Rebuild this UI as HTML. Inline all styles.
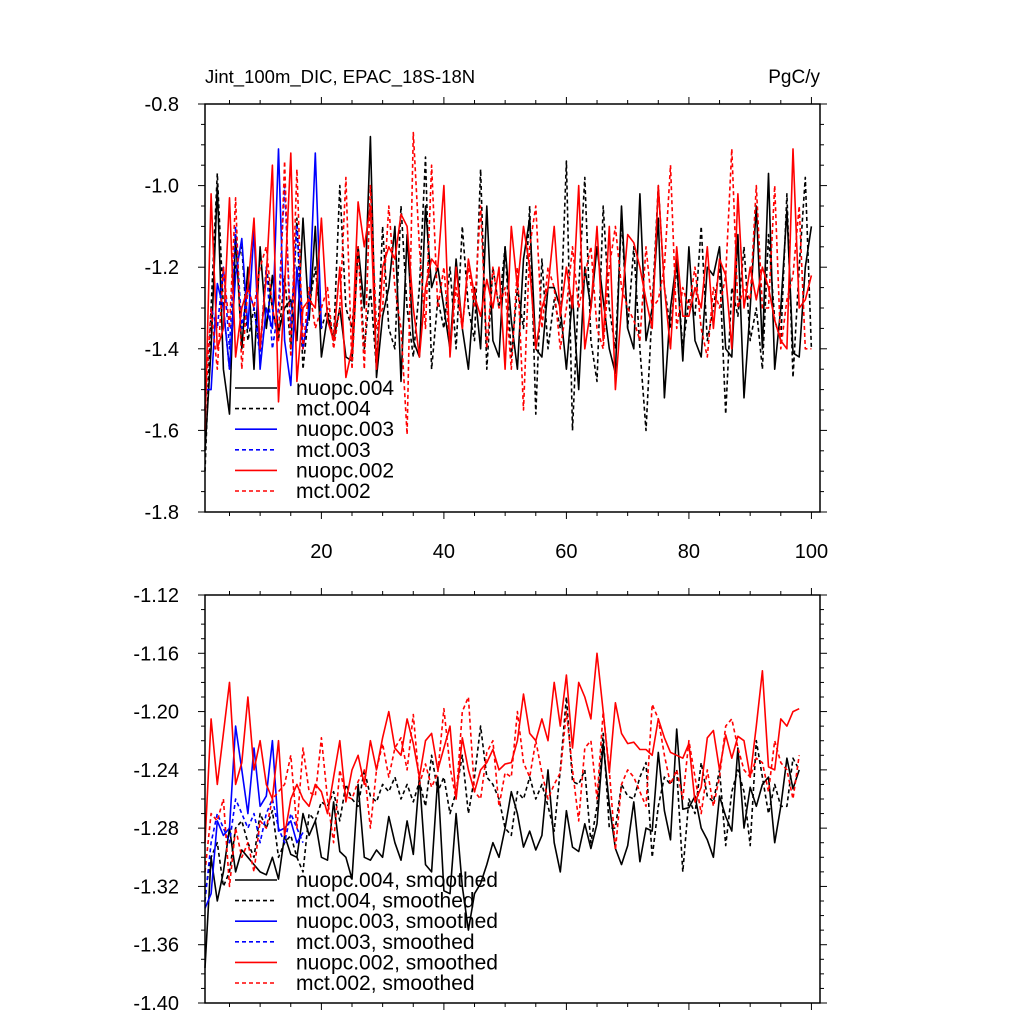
<!DOCTYPE html>
<html><head><meta charset="utf-8"><style>
html,body{margin:0;padding:0;background:#fff}
svg{display:block;font-family:"Liberation Sans",sans-serif}
</style></head><body>
<svg id="chart" width="1024" height="1024" viewBox="0 0 1024 1024" xmlns="http://www.w3.org/2000/svg">
<text x="205" y="83" font-size="18.5">Jint_100m_DIC, EPAC_18S-18N</text>
<text x="820" y="83" font-size="19" text-anchor="end">PgC/y</text>
<g id="top"></g>
<g id="bot"></g>
</svg>
<script>
const xTicks=[20,40,60,80,100];
const topYTicks=[-0.8,-1.0,-1.2,-1.4,-1.6,-1.8];
const botYTicks=[-1.12,-1.16,-1.20,-1.24,-1.28,-1.32,-1.36,-1.40];
const nuo4=[-1.65,-1.40,-1.00,-1.45,-1.56,-1.12,-1.40,-1.20,-1.45,-1.15,-1.35,-1.22,-1.36,-1.30,-1.28,-1.38,-1.08,-1.33,-1.10,-1.42,
-1.32,-1.38,-1.30,-1.42,-1.43,-1.15,-1.30,-0.88,-1.47,-1.32,-1.25,-1.10,-1.48,-1.12,-1.38,-1.42,-1.05,-1.25,-1.20,-1.30,
-1.40,-1.18,-1.35,-1.45,-1.25,-1.40,-1.05,-1.38,-1.42,-1.15,-1.33,-1.45,-1.18,-1.08,-1.40,-1.42,-1.25,-1.25,-1.30,-1.45,
-1.27,-1.50,-1.20,-1.30,-1.15,-1.28,-1.40,-1.46,-1.05,-1.35,-1.40,-1.02,-1.38,-1.30,-1.08,-1.52,-1.30,-1.18,-1.43,-1.15,
-1.38,-1.42,-1.20,-1.22,-1.15,-1.40,-1.42,-1.12,-1.52,-1.30,-1.05,-1.40,-0.97,-1.45,-1.30,-1.06,-1.41,-1.42,-1.20,-1.10];
const mct4=[-1.70,-1.30,-0.97,-1.30,-1.45,-1.20,-1.15,-1.38,-1.30,-1.40,-1.20,-1.30,-1.38,-1.22,-1.40,-1.08,-1.45,-1.30,-1.20,-1.35,
-1.30,-1.38,-1.00,-1.30,-1.35,-1.15,-1.40,-1.25,-1.45,-1.10,-1.35,-1.40,-1.05,-1.30,-1.42,-1.25,-0.93,-1.45,-1.28,-1.35,
-1.20,-1.40,-1.10,-1.30,-1.38,-0.96,-1.45,-1.20,-1.30,-1.15,-1.42,-1.25,-1.35,-1.05,-1.56,-1.18,-1.40,-1.28,-1.35,-0.94,
-1.60,-1.25,-0.98,-1.38,-1.48,-1.05,-1.30,-1.40,-1.08,-1.35,-1.15,-1.40,-1.60,-1.30,-1.00,-1.25,-1.35,-1.20,-1.40,-1.28,
-1.32,-1.10,-1.38,-1.30,-1.20,-1.56,-1.25,-1.32,-1.15,-1.38,-1.30,-1.45,-1.12,-1.33,-1.38,-1.02,-1.47,-1.20,-0.98,-1.40];
const nuo3=[-1.50,-1.50,-1.24,-1.30,-1.45,-1.22,-1.13,-1.35,-1.11,-1.45,-1.30,-1.35,-0.91,-1.38,-1.49,-1.20,-1.40,-1.30,-0.92,-1.35];
const mct3=[-1.55,-1.30,-1.35,-1.20,-1.40,-1.10,-1.35,-1.25,-1.30,-1.42,-1.20,-1.40,-1.30,-1.00,-1.35,-1.10,-1.35];
const nuo2=[-1.60,-1.02,-1.40,-1.35,-1.03,-1.42,-1.30,-1.25,-1.08,-1.40,-1.22,-0.95,-1.53,-1.25,-0.92,-1.48,-1.30,-1.28,-1.30,-1.08,
-1.33,-1.38,-1.20,-1.47,-1.40,-1.04,-1.15,-1.05,-1.45,-1.20,-1.15,-1.18,-1.07,-1.10,-1.30,-1.42,-1.25,-1.18,-1.20,-1.00,
-1.42,-1.20,-1.35,-1.18,-1.27,-1.32,-1.23,-1.30,-1.20,-1.45,-1.10,-1.25,-1.10,-1.20,-1.40,-1.30,-1.25,-1.10,-1.32,-1.20,
-1.30,-1.00,-1.40,-1.30,-1.10,-1.38,-1.10,-1.50,-1.30,-1.12,-1.14,-1.20,-1.28,-1.35,-1.00,-1.25,-1.40,-1.15,-1.32,-1.32,
-1.25,-1.30,-1.15,-1.35,-1.18,-1.22,-1.40,-1.02,-1.30,-1.20,-1.28,-1.20,-1.25,-1.33,-1.38,-1.40,-0.91,-1.30,-1.28,-1.22];
const mct2=[-1.55,-1.30,-1.45,-1.20,-1.35,-1.03,-1.45,-1.25,-1.30,-1.20,-1.15,-1.30,-1.38,-0.94,-1.42,-0.96,-1.40,-1.25,-1.35,-1.30,
-1.25,-1.40,-1.30,-0.98,-1.45,-1.15,-1.45,-1.00,-1.35,-1.30,-1.05,-1.25,-1.35,-1.61,-0.87,-1.15,-1.35,-0.95,-1.30,-1.20,
-1.40,-1.25,-1.35,-1.20,-1.30,-1.05,-1.40,-1.20,-1.30,-1.25,-1.45,-1.20,-1.55,-1.15,-1.05,-1.35,-1.20,-1.25,-1.40,-1.30,
-1.15,-1.30,-1.22,-1.15,-1.35,-1.40,-1.20,-1.10,-1.25,-1.30,-1.33,-1.38,-1.15,-1.30,-1.28,-1.20,-0.95,-1.35,-1.25,-1.30,
-1.20,-1.35,-1.42,-1.25,-1.30,-1.22,-0.91,-1.30,-1.25,-1.28,-1.00,-1.30,-1.30,-1.00,-1.40,-1.28,-1.22,-1.05,-1.40,-1.40];
const nuo4s=[-1.376,-1.30,-1.33,-1.31,-1.28,-1.31,-1.295,-1.30,-1.305,-1.31,-1.312,-1.30,-1.315,-1.285,-1.298,-1.30,-1.27,-1.285,-1.275,-1.30,
-1.302,-1.262,-1.296,-1.30,-1.315,-1.25,-1.30,-1.302,-1.295,-1.30,-1.272,-1.29,-1.302,-1.275,-1.298,-1.245,-1.305,-1.310,-1.245,-1.323,
-1.325,-1.27,-1.32,-1.35,-1.325,-1.318,-1.305,-1.29,-1.30,-1.28,-1.255,-1.27,-1.293,-1.282,-1.295,-1.285,-1.24,-1.29,-1.31,-1.268,
-1.293,-1.296,-1.277,-1.294,-1.277,-1.222,-1.264,-1.294,-1.305,-1.292,-1.262,-1.303,-1.280,-1.282,-1.228,-1.268,-1.288,-1.212,-1.267,-1.266,
-1.258,-1.28,-1.288,-1.30,-1.258,-1.272,-1.282,-1.225,-1.28,-1.252,-1.265,-1.25,-1.245,-1.29,-1.265,-1.232,-1.253,-1.24];
const mct4s=[-1.325,-1.30,-1.29,-1.32,-1.31,-1.28,-1.275,-1.29,-1.30,-1.27,-1.28,-1.268,-1.30,-1.29,-1.285,-1.30,-1.31,-1.27,-1.275,-1.262,
-1.265,-1.255,-1.275,-1.25,-1.26,-1.265,-1.24,-1.258,-1.262,-1.25,-1.255,-1.245,-1.26,-1.25,-1.262,-1.248,-1.265,-1.23,-1.255,-1.245,
-1.27,-1.255,-1.23,-1.27,-1.245,-1.21,-1.245,-1.25,-1.26,-1.28,-1.285,-1.255,-1.26,-1.245,-1.26,-1.25,-1.265,-1.282,-1.24,-1.19,
-1.248,-1.25,-1.24,-1.29,-1.265,-1.215,-1.28,-1.28,-1.25,-1.258,-1.26,-1.245,-1.235,-1.30,-1.265,-1.245,-1.25,-1.24,-1.31,-1.26,
-1.27,-1.235,-1.258,-1.262,-1.24,-1.292,-1.255,-1.24,-1.255,-1.292,-1.22,-1.245,-1.27,-1.25,-1.265,-1.265,-1.232,-1.24];
const nuo3s=[-1.335,-1.325,-1.275,-1.285,-1.28,-1.21,-1.24,-1.27,-1.225,-1.265,-1.258,-1.22,-1.282,-1.28,-1.275,-1.29,-1.283];
const mct3s=[-1.33,-1.29,-1.27,-1.28,-1.29,-1.26,-1.27,-1.28,-1.27,-1.29,-1.27,-1.26,-1.28,-1.29,-1.27,-1.28,-1.29];
const nuo2s=[-1.29,-1.205,-1.25,-1.215,-1.18,-1.25,-1.235,-1.19,-1.24,-1.22,-1.25,-1.26,-1.22,-1.285,-1.26,-1.25,-1.26,-1.265,-1.25,-1.255,
-1.27,-1.245,-1.22,-1.262,-1.24,-1.23,-1.25,-1.22,-1.24,-1.218,-1.20,-1.225,-1.23,-1.205,-1.222,-1.245,-1.22,-1.215,-1.24,-1.225,
-1.21,-1.26,-1.218,-1.24,-1.255,-1.24,-1.235,-1.226,-1.24,-1.236,-1.235,-1.22,-1.188,-1.215,-1.22,-1.205,-1.22,-1.18,-1.21,-1.175,
-1.225,-1.18,-1.19,-1.205,-1.16,-1.20,-1.242,-1.194,-1.215,-1.222,-1.221,-1.226,-1.226,-1.23,-1.205,-1.218,-1.228,-1.23,-1.232,-1.222,
-1.262,-1.252,-1.218,-1.213,-1.240,-1.216,-1.232,-1.217,-1.220,-1.245,-1.21,-1.172,-1.238,-1.24,-1.205,-1.21,-1.20,-1.198];
const mct2s=[-1.31,-1.27,-1.275,-1.26,-1.32,-1.28,-1.30,-1.29,-1.31,-1.275,-1.28,-1.26,-1.255,-1.25,-1.23,-1.28,-1.225,-1.255,-1.258,-1.218,
-1.26,-1.29,-1.24,-1.258,-1.26,-1.248,-1.24,-1.28,-1.24,-1.222,-1.245,-1.225,-1.218,-1.24,-1.202,-1.25,-1.236,-1.252,-1.242,-1.198,
-1.238,-1.26,-1.20,-1.19,-1.255,-1.26,-1.228,-1.22,-1.265,-1.242,-1.245,-1.20,-1.235,-1.245,-1.22,-1.242,-1.26,-1.25,-1.242,-1.20,
-1.24,-1.275,-1.225,-1.22,-1.26,-1.20,-1.24,-1.295,-1.25,-1.24,-1.245,-1.255,-1.265,-1.195,-1.205,-1.23,-1.25,-1.24,-1.26,-1.22,
-1.245,-1.27,-1.24,-1.265,-1.245,-1.21,-1.205,-1.225,-1.24,-1.245,-1.232,-1.235,-1.255,-1.22,-1.235,-1.24,-1.26,-1.23];

const NS="http://www.w3.org/2000/svg";
const L=205,R=820,X0=1,X1=101.4;
function xs(v){return L+(v-X0)/(X1-X0)*(R-L);}
function mk(t,a,p){const e=document.createElementNS(NS,t);for(const k in a)e.setAttribute(k,a[k]);p.appendChild(e);return e;}

function panel(g,top,bot,ymax,ymin,yTicks,minorStep,showX,series,legendY,suffix,pname){
  const ys=v=>top+(ymax-v)/(ymax-ymin)*(bot-top);
  series.forEach(s=>{
    const pts=s.data.map((v,i)=>xs(i+1).toFixed(1)+","+ys(v).toFixed(1)).join(" ");
    const pl=mk("polyline",{points:pts,fill:"none",stroke:s.color,"stroke-width":1.6,"stroke-dasharray":s.dash?"4,3":"none","stroke-linejoin":"round"},g);
    
    
  });
  const fr=mk("rect",{x:L,y:top,width:R-L,height:bot-top,fill:"none",stroke:"#000","stroke-width":1.5},g);
  
  
  for(let v=5;v<=100;v+=5){
    const x=xs(v),len=(v%20===0)?7:4;
    mk("line",{x1:x,y1:bot,x2:x,y2:bot+len,stroke:"#000","stroke-width":1},g);
    mk("line",{x1:x,y1:top,x2:x,y2:top-len,stroke:"#000","stroke-width":1},g);
  }
  if(showX){
    xTicks.forEach(v=>{
      const t=mk("text",{x:xs(v),y:bot+46,"font-size":20,"text-anchor":"middle"},g);
      t.textContent=v;
      
      
    });
  }
  const n=Math.round((ymax-ymin)/minorStep);
  for(let i=0;i<=n;i++){
    const v=ymax-i*minorStep,y=ys(v);
    const major=yTicks.some(t=>Math.abs(t-v)<1e-6);
    const len=major?7:4;
    mk("line",{x1:L,y1:y,x2:L-len,y2:y,stroke:"#000","stroke-width":1},g);
    mk("line",{x1:R,y1:y,x2:R+len,y2:y,stroke:"#000","stroke-width":1},g);
  }
  yTicks.forEach(v=>{
    const t=mk("text",{x:179,y:ys(v)+7,"font-size":20,"text-anchor":"end"},g);
    t.textContent=(ymax>-1?v.toFixed(1):v.toFixed(2));
    
    
  });
  series.forEach((s,i)=>{
    const y=legendY+i*20.6;
    const ln=mk("line",{x1:235,y1:y,x2:277,y2:y,stroke:s.color,"stroke-width":1.6,"stroke-dasharray":s.dash?"4,3":"none"},g);
    
    
    const t=mk("text",{x:296,y:y+7,"font-size":21},g);
    t.textContent=s.name+suffix;
    
    
  });
}
panel(document.getElementById("top"),104,512,-0.8,-1.8,topYTicks,0.05,true,[
 {name:"nuopc.004",data:nuo4,color:"#000",dash:false},
 {name:"mct.004",data:mct4,color:"#000",dash:true},
 {name:"nuopc.003",data:nuo3,color:"#0000ff",dash:false},
 {name:"mct.003",data:mct3,color:"#0000ff",dash:true},
 {name:"nuopc.002",data:nuo2,color:"#ff0000",dash:false},
 {name:"mct.002",data:mct2,color:"#ff0000",dash:true}],388,"","top");
panel(document.getElementById("bot"),595,1003,-1.12,-1.40,botYTicks,0.01,false,[
 {name:"nuopc.004",data:nuo4s,color:"#000",dash:false},
 {name:"mct.004",data:mct4s,color:"#000",dash:true},
 {name:"nuopc.003",data:nuo3s,color:"#0000ff",dash:false},
 {name:"mct.003",data:mct3s,color:"#0000ff",dash:true},
 {name:"nuopc.002",data:nuo2s,color:"#ff0000",dash:false},
 {name:"mct.002",data:mct2s,color:"#ff0000",dash:true}],880,", smoothed","bottom");
</script>
</body></html>
